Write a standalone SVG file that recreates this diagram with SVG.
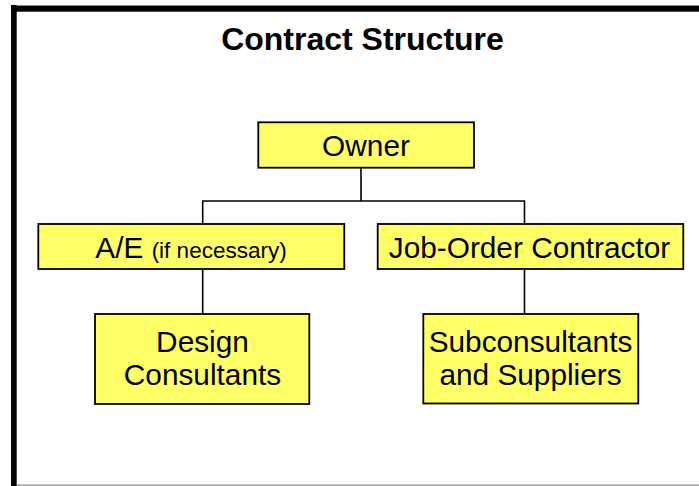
<svg xmlns="http://www.w3.org/2000/svg" width="699" height="486" viewBox="0 0 699 486">
<style>
.box{fill:#FFFF66;stroke:#000;stroke-width:1.8}
.t{font-family:"Liberation Sans",Arial,sans-serif;font-size:29.8px;fill:#000;text-anchor:middle}
.s{font-size:22.5px}
.c{stroke:#000;stroke-width:1.6;fill:none}
</style>
<rect width="699" height="486" fill="#fff"/>
<g id="frame">
<rect x="11" y="5" width="688" height="1" fill="#888"/>
<rect x="11" y="6" width="688" height="5.7" fill="#000"/>
<rect x="11" y="5" width="5.7" height="481" fill="#000"/>
<rect x="16.7" y="484.5" width="682.3" height="1.2" fill="#888"/>
</g>
<text id="title" class="t" x="362.5" y="50" style="font-weight:bold;font-size:32px">Contract Structure</text>
<g id="connectors">
<path class="c" d="M361 168V201M202.7 224V201H524.5V224M202.7 269V314M524.5 269V314"/>
</g>
<g id="owner">
<rect class="box" x="258.3" y="122.3" width="215.7" height="45.4"/>
<text class="t" x="366" y="155.5">Owner</text>
</g>
<g id="ae">
<rect class="box" x="38.3" y="224" width="306" height="45"/>
<text class="t" x="191" y="258.3">A/E <tspan class="s">(if necessary)</tspan></text>
</g>
<g id="joc">
<rect class="box" x="377.7" y="224" width="305.6" height="45"/>
<text class="t" x="529.5" y="258.3">Job-Order Contractor</text>
</g>
<g id="design">
<rect class="box" x="95" y="314" width="214.3" height="90"/>
<text class="t" x="202.5" y="352.3">Design</text>
<text class="t" x="202.5" y="385">Consultants</text>
</g>
<g id="subs">
<rect class="box" x="423.3" y="314" width="215" height="89.5"/>
<text class="t" x="530.5" y="352.3">Subconsultants</text>
<text class="t" x="530.5" y="385">and Suppliers</text>
</g>
</svg>
